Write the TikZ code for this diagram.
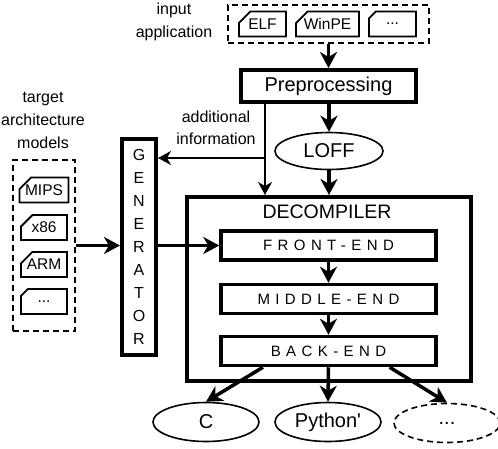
\documentclass[tikz,border=0pt]{standalone}
\usepackage{fontspec}
\setmainfont{Liberation Sans}
\usetikzlibrary{arrows.meta,shapes.geometric,shapes.misc,calc}

\tikzset{
	doc/.style={draw,line width=1.8pt,chamfered rectangle,chamfered rectangle corners=north west,chamfered rectangle xsep=6pt,chamfered rectangle ysep=6pt,minimum height=25pt,inner sep=0pt,font=\fontsize{15.5}{18}\selectfont},
	group/.style={draw,dashed,dash pattern=on 6pt off 4pt,line width=1.6pt,inner sep=0pt},
	bigbox/.style={draw,line width=4pt,inner sep=0pt},
	stage/.style={draw,line width=3.5pt,inner sep=0pt,minimum width=215pt,minimum height=29pt,font=\fontsize{15}{18}\selectfont\addfontfeature{LetterSpace=36}},
	lang/.style={draw,ellipse,line width=1.6pt,inner sep=0pt,minimum width=106pt,minimum height=39pt,font=\fontsize{20}{24}\selectfont},
	lbl/.style={align=center,font=\fontsize{16}{23}\selectfont},
	flow/.style={line width=3.5pt,-{Stealth[length=16pt,width=17pt,inset=5pt]}},
	info/.style={line width=1.5pt,-{Stealth[length=13pt,width=14pt,inset=4pt]}}
}

\begin{document}
\begin{tikzpicture}[x=1pt,y=-1pt]
	\useasboundingbox (0,0) rectangle (498,448);
	\node[group,minimum width=201pt,minimum height=38pt] (inapp) at (328.5,24) {};
	\node[doc,minimum width=47pt] (elf) at (262.5,24) {ELF};
	\node[doc,minimum width=63pt] (winpe) at (327.5,24) {WinPE};
	\node[doc,minimum width=47pt] (appdots) at (392.5,24) {...};
	\node[lbl] (inlabel) at (174,22) {input\\application};
	\node[bigbox,minimum width=175pt,minimum height=32pt,font=\fontsize{20}{24}\selectfont] (pre) at (328.5,86) {Preprocessing};
	\node[lang,minimum width=108pt,minimum height=37pt] (loff) at (329,151) {LOFF};
	\node[bigbox,minimum width=284pt,minimum height=184pt] (dec) at (329,289) {};
	\node[font=\fontsize{19.5}{22}\selectfont] (declabel) at (327,212) {DECOMPILER};
	\node[stage] (front) at (328.5,245.5) {FRONT-END};
	\node[stage] (middle) at (328.5,299) {MIDDLE-END};
	\node[stage] (back) at (328.5,351) {BACK-END};
	\node[lang] (outc) at (206,422) {C};
	\node[lang] (outpy) at (328,422) {Python\textquotesingle};
	\node[lang,dashed,dash pattern=on 6pt off 4pt] (outdots) at (447,423) {...};
	\node[bigbox,minimum width=34pt,minimum height=216pt,align=center,font=\fontsize{16}{23.1}\selectfont] (gen) at (139,247) {G\\E\\N\\E\\R\\A\\T\\O\\R};
	\node[group,minimum width=62pt,minimum height=171pt] (target) at (44,245.5) {};
	\node[doc,minimum width=46pt] (mips) at (44,190) {MIPS};
	\node[doc,minimum width=46pt] (x86) at (44,227.5) {x86};
	\node[doc,minimum width=46pt] (arm) at (44,264.5) {ARM};
	\node[doc,minimum width=46pt] (archdots) at (44,301.5) {...};
	\node[lbl] (tlabel) at (43,120) {target\\architecture\\models};
	\node[lbl,font=\fontsize{16}{22}\selectfont] (addlabel) at (216,128) {additional\\information};
	\coordinate (split) at (265,158);
	\draw[flow] (inapp.south) -- (pre.north);
	\draw[flow] (pre.south -| loff.north) -- (loff.north);
	\draw[flow] (loff.south) -- (dec.north -| loff.south);
	\draw[info] (pre.south -| split) -- (dec.north -| split);
	\draw[info] (split) -- (gen.east |- split);
	\draw[flow] (target.east |- front.west) -- (gen.west |- front.west);
	\draw[flow] (gen.east |- front.west) -- (front.west);
	\draw[flow] (front.south) -- (middle.north);
	\draw[flow] (middle.south) -- (back.north);
	\draw[flow] ($(back.south west)!0.2!(back.south east)$) -- (outc.north);
	\draw[flow] (back.south) -- (outpy.north);
	\draw[flow] ($(back.south west)!0.78!(back.south east)$) -- (outdots.north);
\end{tikzpicture}
\end{document}
